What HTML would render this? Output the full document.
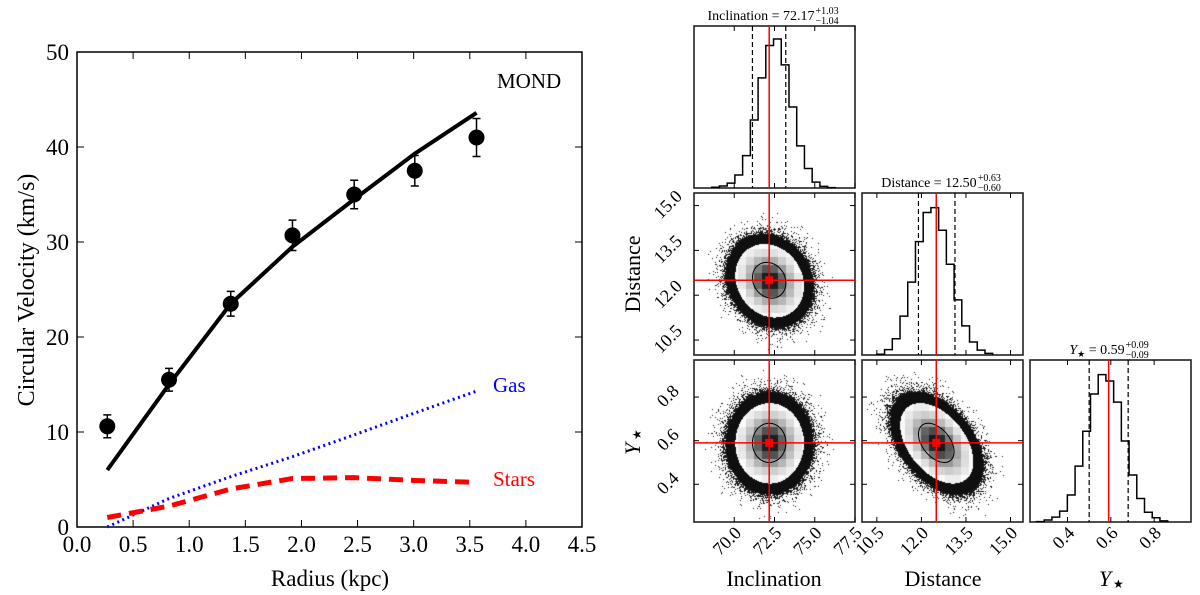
<!DOCTYPE html>
<html><head><meta charset="utf-8"><style>
body{margin:0;background:#fff;}
#wrap{position:relative;width:1200px;height:595px;overflow:hidden;font-family:"Liberation Serif",serif;}
canvas{position:absolute;}
svg{position:absolute;left:0;top:0;}
text{font-family:"Liberation Serif",serif;}
</style></head><body>
<div id="wrap">
<canvas id="c10" width="161" height="162" style="left:694px;top:193px"></canvas>
<canvas id="c20" width="161" height="162" style="left:694px;top:360px"></canvas>
<canvas id="c21" width="161" height="162" style="left:862px;top:360px"></canvas>
<svg id="svg" width="1200" height="595"></svg>
</div>
<script>
// ---- Left chart data ----
const radius = [0.27,0.82,1.37,1.92,2.47,3.01,3.56];
const vobs = [10.6,15.5,23.5,30.7,35.0,37.5,41.0];
const verr = [1.2,1.2,1.3,1.6,1.5,1.6,2.0];
const vmond = [6.0,15.0,23.5,29.5,34.5,39.3,43.6];
const vgas = [0.0,3.0,5.3,7.4,9.7,12.0,14.3];
const vstars = [1.0,2.2,4.0,5.1,5.2,4.9,4.7];
const xTicks = ["0.0","0.5","1.0","1.5","2.0","2.5","3.0","3.5","4.0","4.5"];
const yTicks = ["0","10","20","30","40","50"];
// ---- Corner data ----
const paramNames = ["Inclination","Distance","Ystar"];
const medians = [72.17,12.50,0.59];
const qlo = [71.13,11.90,0.50];
const qhi = [73.20,13.13,0.68];
const sigmas = [1.04,0.60,0.09];
const rhoID = -0.15, rhoIY = 0.0, rhoDY = -0.45;
const histInclStart = 68.6, histInclW = 0.48;
const histIncl = [0.005,0.012,0.03,0.08,0.2,0.42,0.68,0.88,0.92,0.76,0.5,0.26,0.12,0.036,0.01,0.002];
const histDistStart = 10.5, histDistW = 0.26;
const histDist = [0.005,0.033,0.10,0.24,0.45,0.70,0.88,0.91,0.77,0.56,0.34,0.18,0.08,0.03,0.01];
const histYStart = 0.257, histYW = 0.0356;
const histY = [0.002,0.012,0.03,0.067,0.167,0.345,0.56,0.79,0.91,0.87,0.74,0.5,0.29,0.145,0.06,0.026,0.007];
const ticksIncl = [70.0,72.5,75.0,77.5];
const ticksDist = [10.5,12.0,13.5,15.0];
const ticksY = [0.4,0.6,0.8];

const NS="http://www.w3.org/2000/svg";
const svg=document.getElementById('svg');
function el(tag,attrs,parent,txt){const e=document.createElementNS(NS,tag);for(const k in attrs)e.setAttribute(k,attrs[k]);if(txt!==undefined)e.textContent=txt;(parent||svg).appendChild(e);return e;}

// ---- Left chart ----
const L=77,R=582,T=52,B=527;
const X=v=>L+v*(R-L)/4.5, Y=v=>B-v*(B-T)/50;
const g=el('g',{});  
const frame=el('rect',{x:L,y:T,width:R-L,height:B-T,fill:'none',stroke:'#000','stroke-width':1.5},g);
 
xTicks.forEach(t=>{const x=X(+t);
 el('line',{x1:x,x2:x,y1:B,y2:B-7,stroke:'#000'},g);el('line',{x1:x,x2:x,y1:T,y2:T+7,stroke:'#000'},g);
 const tx=el('text',{x:x,y:552,'font-size':23,'text-anchor':'middle'},g,t);
  });
yTicks.forEach(t=>{const y=Y(+t);
 el('line',{x1:L,x2:L+7,y1:y,y2:y,stroke:'#000'},g);el('line',{x1:R,x2:R-7,y1:y,y2:y,stroke:'#000'},g);
 const tx=el('text',{x:69,y:y+8,'font-size':23,'text-anchor':'end'},g,t);
  });
const xt=el('text',{x:330,y:586,'font-size':23,'text-anchor':'middle'},g,'Radius (kpc)');
 
const yt=el('text',{x:0,y:0,'font-size':24,'text-anchor':'middle',transform:'translate(34,290) rotate(-90)'},g,'Circular Velocity (km/s)');
 
function pts(arr){return radius.map((r,i)=>X(r)+','+Y(arr[i])).join(' ');}
const gas=el('polyline',{points:pts(vgas),fill:'none',stroke:'#0000ff','stroke-width':3,'stroke-dasharray':'2 3.5'},g);
 
const st=el('polyline',{points:pts(vstars),fill:'none',stroke:'#ff0000','stroke-width':5,'stroke-dasharray':'14 8'},g);
 
const md=el('polyline',{points:pts(vmond),fill:'none',stroke:'#000','stroke-width':4},g);
 
radius.forEach((r,i)=>{const x=X(r);
 const e=el('path',{d:`M${x},${Y(vobs[i]-verr[i])}V${Y(vobs[i]+verr[i])}M${x-4},${Y(vobs[i]-verr[i])}h8M${x-4},${Y(vobs[i]+verr[i])}h8`,stroke:'#000','stroke-width':1.5},g);
  
 const c=el('circle',{cx:x,cy:Y(vobs[i]),r:8,fill:'#000'},g);
  });
[['MOND',497,88,'#000','mond-label'],['Gas',493,392,'#0000ff','gas-label'],['Stars',493,486,'#ff0000','stars-label']].forEach(a=>{
 const t=el('text',{x:a[1],y:a[2],'font-size':21,fill:a[3]},g,a[0]);
  });

// ---- Corner plot ----
const cols=[694,862,1030], rows=[26,193,360], W=161, H=162;
const ranges=[[67.5,77.5],[10.0,15.42],[0.227,0.97]];
const px=(i,v,col)=>cols[col]+(v-ranges[i][0])/(ranges[i][1]-ranges[i][0])*W;
const py=(i,v,row)=>rows[row]+H-(v-ranges[i][0])/(ranges[i][1]-ranges[i][0])*H;
const tickSets=[ticksIncl,ticksDist,ticksY];
const tickFmt=v=>v.toFixed(1);

function hist(idx,start,w,vals){
 const col=idx,row=idx; const bot=rows[row]+H;
 let d=`M${px(idx,start,col)},${bot}`;
 vals.forEach((v,k)=>{const x0=px(idx,start+k*w,col),x1=px(idx,start+(k+1)*w,col),y=bot-v*H;d+=`L${x0},${y}L${x1},${y}`;});
 d+=`L${px(idx,start+vals.length*w,col)},${bot}`;
 const p=el('path',{d:d,fill:'none',stroke:'#000','stroke-width':1.5});
  
 [qlo[idx],qhi[idx]].forEach(q=>{const l=el('line',{x1:px(idx,q,col),x2:px(idx,q,col),y1:rows[row],y2:bot,stroke:'#000','stroke-width':1.2,'stroke-dasharray':'5 3'});
   });
 const m=el('line',{x1:px(idx,medians[idx],col),x2:px(idx,medians[idx],col),y1:rows[row],y2:bot,stroke:'#ff0000','stroke-width':1.5});
  
}
for(let r=0;r<3;r++)for(let c=0;c<=r;c++){
 const f=el('rect',{x:cols[c],y:rows[r],width:W,height:H,fill:'none',stroke:'#222','stroke-width':1.6});
  
 tickSets[c].forEach(t=>{const x=px(c,t,c);if(x>cols[c]+W+0.5)return;
  el('line',{x1:x,x2:x,y1:rows[r]+H,y2:rows[r]+H-5,stroke:'#000'});el('line',{x1:x,x2:x,y1:rows[r],y2:rows[r]+5,stroke:'#000'});});
 if(r!==c)tickSets[r].forEach(t=>{const y=py(r,t,r);
  el('line',{x1:cols[c],x2:cols[c]+5,y1:y,y2:y,stroke:'#000'});el('line',{x1:cols[c]+W,x2:cols[c]+W-5,y1:y,y2:y,stroke:'#000'});});
}
hist(0,histInclStart,histInclW,histIncl);
hist(1,histDistStart,histDistW,histDist);
hist(2,histYStart,histYW,histY);
for(let c=0;c<3;c++)tickSets[c].forEach(t=>{const x=px(c,t,c);
 const tx=el('text',{x:0,y:0,'font-size':18,'text-anchor':'end',transform:`translate(${x+8},${rows[2]+H+12}) rotate(-45)`},svg,tickFmt(t));
  });
for(let r=1;r<3;r++)tickSets[r].forEach(t=>{const y=py(r,t,r);
 const tx=el('text',{x:0,y:0,'font-size':18,'text-anchor':'middle',transform:`translate(${cols[0]-22},${y+3}) rotate(-45)`},svg,tickFmt(t));
  });
[['Inclination',774,586],['Distance',943,586]].forEach(a=>{const t=el('text',{x:a[1],y:a[2],'font-size':22,'text-anchor':'middle'},svg,a[0]);
  });
const yl=el('text',{x:1105,y:586,'font-size':22,'text-anchor':'middle','font-style':'italic'},svg,'Y');
 
el('text',{x:1113,y:588,'font-size':12},svg,'★');
const dl=el('text',{x:0,y:0,'font-size':22,'text-anchor':'middle',transform:'translate(640,274) rotate(-90)'},svg,'Distance');
 
const yl2=el('text',{x:0,y:0,'font-size':22,'text-anchor':'middle','font-style':'italic',transform:'translate(640,449) rotate(-90)'},svg,'Y');
 
el('text',{x:0,y:0,'font-size':12,transform:'translate(641,440) rotate(-90)'},svg,'★');
function title(cx,y,lbl,val,up,dn,italic){
 const grp=el('g',{});
  
 const t=el('text',{x:0,y:y,'font-size':14},grp);
 el('tspan',{'font-style':italic?'italic':'normal'},t,lbl);
 if(italic){el('tspan',{'font-size':9,dy:3},t,'★');el('tspan',{dy:-3},t,' = '+val);}else el('tspan',{},t,' = '+val);
 const w=t.getComputedTextLength();
 const sw=26, x0=cx-(w+sw)/2;
 t.setAttribute('x',x0);
 el('text',{x:x0+w+1,y:y-6,'font-size':10},grp,up);
 el('text',{x:x0+w+1,y:y+4,'font-size':10},grp,dn);
}
title(774,20,'Inclination','72.17','+1.03','−1.04');
title(942,187,'Distance','12.50','+0.63','−0.60');
title(1110,354,'Y','0.59','+0.09','−0.09',true);

function hash(x,y){let h=(x*374761393+y*668265263)>>>0;h=((h^(h>>>13))*1274126177)>>>0;return ((h^(h>>>16))>>>0)/4294967295;}
function cloud(id,cx,cy,sx,sy,rho,svgx,svgy){
 const c=document.getElementById(id),ctx=c.getContext('2d'),img=ctx.createImageData(161,162),D=img.data;
 const k=1-rho*rho;
 const rr=(x,y)=>{const dx=(x-cx)/sx,dy=(cy-y)/sy;return Math.sqrt((dx*dx-2*rho*dx*dy+dy*dy)/k);};
 const cell=8;
 for(let y=0;y<162;y++)for(let x=0;x<161;x++){
  const r=rr(x,y);let v=255;
  if(r<2.05){const gx=Math.floor((x-cx)/cell)*cell+cx+cell/2,gy=Math.floor((y-cy)/cell)*cell+cy+cell/2;const rc=rr(gx,gy);v=255*(1-0.95*Math.exp(-rc*rc/1.3));if(rc>1.9)v=250;}
  else if(r<2.6)v=15;
  else if(r<3.9){const p=Math.exp(-(r-2.6)*3.8);v=hash(x+svgx,y+svgy)<p?25:255;}
  const o=(y*161+x)*4;D[o]=D[o+1]=D[o+2]=v;D[o+3]=255;}
 ctx.putImageData(img,0,0);
 let d='';for(let t=0;t<=64;t++){const a=t/64*2*Math.PI,dx=Math.cos(a),dy=rho*Math.cos(a)+Math.sqrt(k)*Math.sin(a);d+=(t?'L':'M')+(svgx+cx+dx*sx)+','+(svgy+cy-dy*sy);}
 const p=el('path',{d:d,fill:'none',stroke:'#000','stroke-width':1});
  
}
function panel2d(xi,yi,row,col,rho,id){
 const mx=px(xi,medians[xi],col),my=py(yi,medians[yi],row);
 const sx=sigmas[xi]/(ranges[xi][1]-ranges[xi][0])*W, sy=sigmas[yi]/(ranges[yi][1]-ranges[yi][0])*H;
 cloud(id,mx-cols[col],my-rows[row],sx,sy,rho,cols[col],rows[row]);
 const a=el('line',{x1:mx,x2:mx,y1:rows[row],y2:rows[row]+H,stroke:'#ff0000','stroke-width':1.5});
  
 const b=el('line',{x1:cols[col],x2:cols[col]+W,y1:my,y2:my,stroke:'#ff0000','stroke-width':1.5});
  
 const s=el('rect',{x:mx-4,y:my-4,width:8,height:8,fill:'#ff0000'});
  
}
panel2d(0,1,1,0,rhoID,'c10');
panel2d(0,2,2,0,rhoIY,'c20');
panel2d(1,2,2,1,rhoDY,'c21');
</script>
</body></html>
